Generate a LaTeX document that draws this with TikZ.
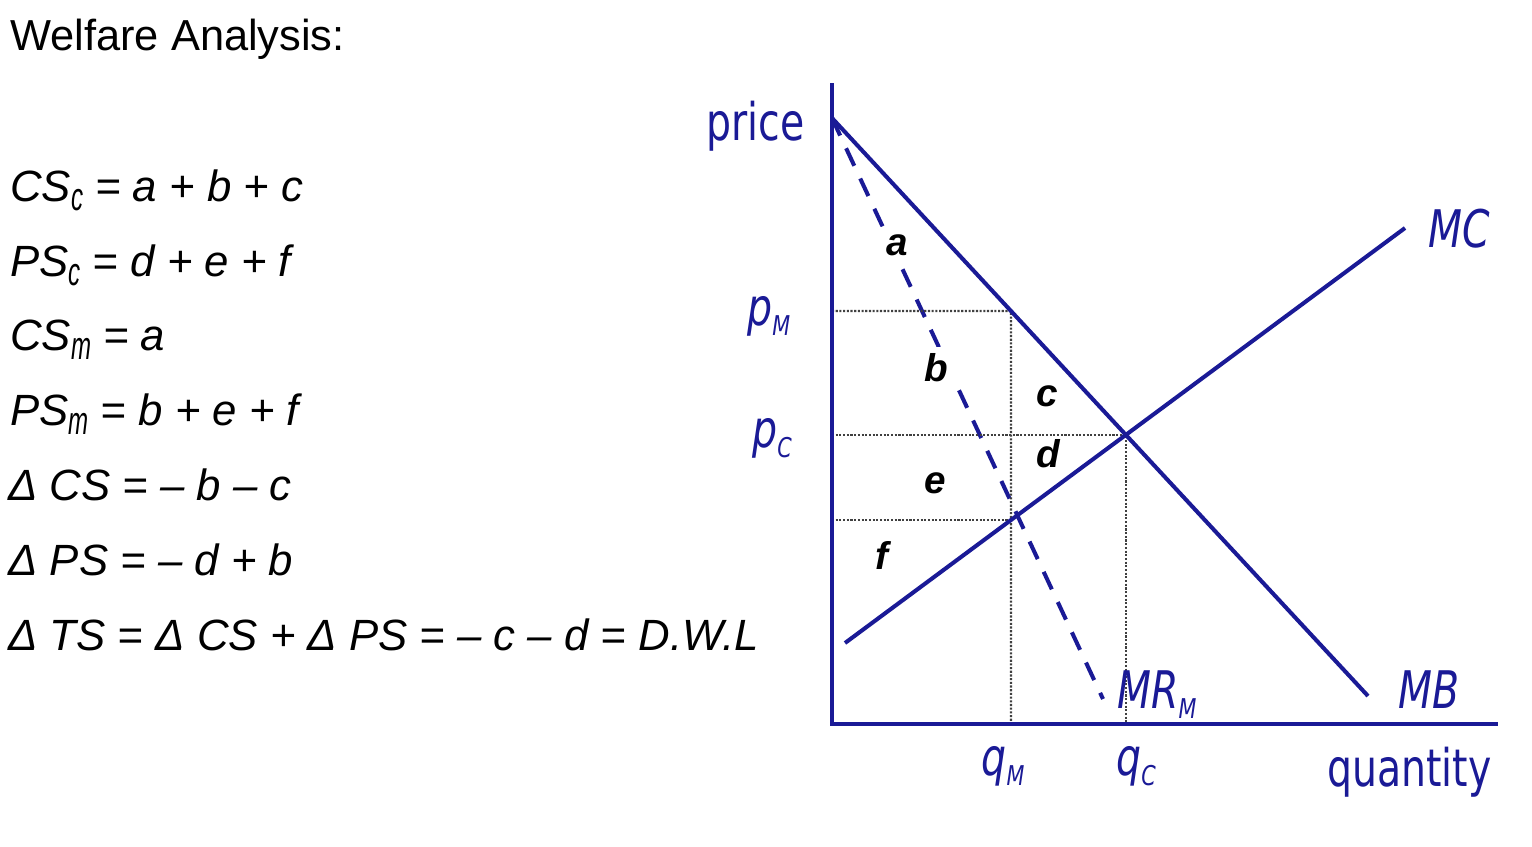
\documentclass[tikz,border=0pt]{standalone}
\usepackage{fontspec}
\usepackage{graphicx}
\setmainfont{Liberation Sans}
\newfontfamily\chartfont[FakeStretch=0.76]{DejaVu Sans}
\definecolor{chartblue}{RGB}{26,26,150}
% squeezed subscript for the formulas, small one for the chart labels
\newcommand{\fsub}[1]{\raisebox{-0.21em}{\scalebox{0.55}[0.9]{#1}}}
\newcommand{\csub}[1]{\raisebox{-0.2em}{\fontsize{15.5pt}{16pt}\selectfont #1}}

\begin{document}
\begin{tikzpicture}[
    x=0.02cm, y=-0.02cm,
    curve/.style={draw=chartblue, line width=2.3pt},
    mrcurve/.style={curve, dash pattern=on 11pt off 8pt},
    guide/.style={draw=gray!50!black, line width=1.2pt, dash pattern=on 1.2pt off 0.9pt},
    region/.style={fill=white, inner sep=4pt, font=\fontsize{22pt}{22pt}\selectfont\bfseries\itshape},
    axislabel/.style={inner sep=0pt, text=chartblue, font=\chartfont\fontsize{29.5pt}{30pt}\selectfont},
    curvelabel/.style={inner sep=0pt, text=chartblue, font=\chartfont\fontsize{29.5pt}{30pt}\selectfont\itshape},
    formula/.style={anchor=base west, inner sep=0pt, font=\fontsize{24.9pt}{26pt}\selectfont\itshape}
]
\useasboundingbox (0,0) rectangle (1532,846);

\node[anchor=base west, inner sep=0pt, font=\fontsize{24.7pt}{26pt}\selectfont] (title) at (10,50) {Welfare Analysis:};

\node[formula] (csC) at (10,201) {CS\fsub{c} = a + b + c};
\node[formula] (psC) at (10,276) {PS\fsub{c} = d + e + f};
\node[formula] (csM) at (10,350) {CS\fsub{m} = a};
\node[formula] (psM) at (10,425) {PS\fsub{m} = b + e + f};
\node[formula] (dCS) at (8,500) {Δ CS = – b – c};
\node[formula] (dPS) at (8,575) {Δ PS = – d + b};
\node[formula] (dTS) at (8,650) {Δ TS = Δ CS + Δ PS = – c – d = D.W.L};

% axes and curves
\coordinate (origin) at (832,724);
\coordinate (ytop) at (832,83);
\coordinate (xend) at (1498,724);
\coordinate (mbA) at (832,118);
\coordinate (mbB) at (1368,696);
\coordinate (mcA) at (845,643);
\coordinate (mcB) at (1405,228);
\coordinate (mrB) at (1103,699);
\coordinate (qM) at (1011,724);
\coordinate (qMtop) at (1011,83);
\coordinate (eq) at (intersection of mbA--mbB and mcA--mcB);
\coordinate (mbM) at (intersection of mbA--mbB and qM--qMtop);
\coordinate (mcM) at (intersection of mcA--mcB and qM--qMtop);
\coordinate (qC) at (eq |- origin);
\coordinate (pC) at (eq -| origin);
\coordinate (pM) at (mbM -| origin);
\coordinate (pF) at (mcM -| origin);

% dashed MR first, so the area labels break it
\draw[mrcurve] (mbA) -- (mrB);

\node[region] (areaA) at (897,245) {a};
\node[region] (areaB) at (936,368) {b};
\node[region] (areaC) at (1047,396) {c};
\node[region] (areaD) at (1048,454) {d};
\node[region] (areaE) at (935,483) {e};
\node[region] (areaF) at (882,555) {f};

\draw[guide] (pM) -- (mbM) -- (qM);
\draw[guide] (pC) -- (eq) -- (qC);
\draw[guide] (pF) -- (mcM);

\draw[curve] (ytop) -- (origin) -- (xend);
\draw[curve] (mbA) -- (mbB);
\draw[curve] (mcA) -- (mcB);

\node[axislabel, anchor=base east] (price) at (805,140) {price};
\node[axislabel, anchor=base east] (quantity) at (1492,786) {quantity};
\node[curvelabel, anchor=base west] (pMlab) at (747,325) {p\csub{M}};
\node[curvelabel, anchor=base west] (pClab) at (752,447) {p\csub{C}};
\node[curvelabel, anchor=base] (qMlab) at (1003,775) {q\csub{M}};
\node[curvelabel, anchor=base] (qClab) at (1136,775) {q\csub{C}};
\node[curvelabel, anchor=base west] (mrlab) at (1117,708) {MR\csub{M}};
\node[curvelabel, anchor=base west] (mblab) at (1398,708) {MB};
\node[curvelabel, anchor=base west] (mclab) at (1428,247) {MC};

\end{tikzpicture}
\end{document}
